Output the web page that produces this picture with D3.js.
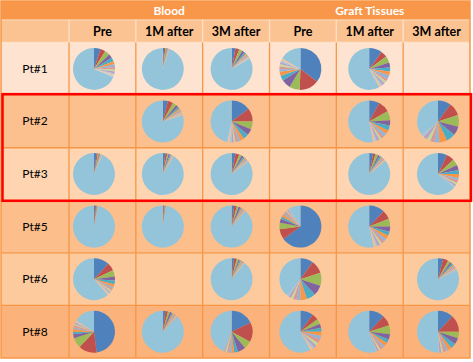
<!DOCTYPE html>
<html>
<head>
<meta charset="utf-8">
<script src="https://cdn.jsdelivr.net/npm/d3@7"></script>
<style>
  body { margin: 0; background: #fff; }
  text { font-family: Lato, "Open Sans", sans-serif; }
</style>
</head>
<body>
<div id="chartDiv"></div>
<script>

// column groups and time points
var groups = ['Blood', 'Graft Tissues'];
var timepoints = ['Pre', '1M after', '3M after'];
var patients = ['Pt#1', 'Pt#2', 'Pt#3', 'Pt#5', 'Pt#6', 'Pt#8'];

// clone shares (%) per cell: Blood Pre, 1M, 3M, Graft Pre, 1M, 3M
// last value of every pie is the remaining (light blue) share, null = no sample
var pt1 = [
  [5, 4, 4, 3, 3, 2.5, 2, 2, 1.5, 1.5, 1, 1, 1, 68.5],
  [1, 1, 0.8, 0.6, 0.5, 0.5, 0.5, 0.4, 94.7],
  [3, 3, 2.5, 2, 1.5, 1, 1, 1, 0.8, 0.6, 0.5, 83.1],
  [35, 15, 8, 7, 4, 3, 2, 2, 2, 1.5, 1.5, 1.5, 16.5],
  [10, 5, 5, 4, 3, 3, 3, 2, 2, 2, 1.5, 1.5, 58],
  null
];
var pt2 = [
  null,
  [4, 4, 3, 2, 1.5, 1, 1, 1, 1, 0.5, 0.5, 0.5, 80],
  [15, 10, 6, 5, 4, 3, 2, 2, 1.5, 1.5, 1.5, 1, 1, 46.5],
  null,
  [8, 9, 7, 4, 4, 3, 3, 2, 2, 2, 1.5, 1.5, 53],
  [10, 10, 9, 7, 7, 6, 4, 3, 3, 3, 2, 36]
];
var pt3 = [
  [2, 1, 0.8, 0.6, 0.5, 0.4, 0.5, 0.5, 0.4, 93.3],
  [2, 1.5, 1, 1, 1, 0.5, 0.6, 0.5, 0.5, 0.4, 91],
  [3, 3, 2, 1.5, 1.5, 1, 1, 0.8, 0.6, 0.5, 85.1],
  null,
  [3, 2, 2, 1.5, 1.5, 1, 1, 1, 0.8, 0.6, 85.6],
  [7, 6, 5, 4, 3, 3, 2, 2, 1.5, 1.5, 1, 64]
];
var pt5 = [
  [1, 0.7, 0.4, 0.3, 0.3, 0.3, 0.3, 96.7],
  [0.8, 0.5, 0.4, 0.3, 0.2, 0.2, 97.6],
  [2, 2, 1.5, 1.5, 1, 1, 1, 0.8, 0.6, 0.5, 88.1],
  [65, 8, 5, 3, 2, 2, 1.5, 1.5, 1, 1, 1, 9],
  [12, 7, 6, 4, 3, 3, 2.5, 2, 2, 2, 1.5, 1.5, 53.5],
  null
];
var pt6 = [
  [12, 6, 5, 3, 3, 2, 1.5, 1.5, 1.5, 1, 1, 1, 61.5],
  null,
  [2, 2, 1.5, 1, 1, 1, 1, 0.8, 0.6, 89.1],
  [10, 10, 10, 8, 7, 5, 3, 2.5, 2, 2, 1.5, 39],
  null,
  [4, 4, 2, 1.5, 1.5, 1, 1, 1, 0.8, 0.6, 0.5, 82.1]
];
var pt8 = [
  [48, 14, 8, 3, 2, 2, 1.5, 1.5, 1, 1, 1, 1, 16],
  [2, 2, 1.5, 1.5, 1, 1, 1, 1, 0.8, 0.6, 87.6],
  [18, 15, 6, 6, 3, 2, 2, 1.5, 1.5, 1, 44],
  [10, 5, 4, 3, 3, 3, 3, 3, 2.5, 2, 2, 1.5, 58],
  [12, 8, 7, 4, 3, 3, 2, 2, 1.5, 1.5, 1, 55],
  [12, 13, 5, 5, 4, 3, 2, 2, 1.5, 1.5, 1, 50]
];
var patientData = [pt1, pt2, pt3, pt5, pt6, pt8];

var sliceColors = ['#4f81bd', '#c0504d', '#9bbb59', '#8064a2', '#4bacc6', '#f79646',
                   '#95b3d7', '#d99694', '#c3d69b', '#b3a2c7', '#a9c4e0', '#fac090',
                   '#b9cde5', '#e6b9b8'];
var restColor = '#93c4d9';

function drawTable() {

  var width = 473;
  var height = 362;

  var svg = d3.select('#chartDiv').append('svg')
    .attr('width', width).attr('height', height);

  var left = 1, right = 470, labelW = 69;
  var top = 1, head1 = 20, head2 = 42.6, bottom = 358;

  var columns = [];
  groups.forEach(function(g) {
    timepoints.forEach(function(t) { columns.push(g + '|' + t); });
  });

  var x = d3.scaleBand().domain(columns).range([labelW, right]);
  var pieX = d3.scalePoint().domain(columns).range([94, 438]);
  var y = d3.scaleBand().domain(patients).range([head2, bottom]);

  var rowFill = ['#fee4d0', '#fcbf8e', '#fed5b0', '#fcbe8b', '#fdca9d', '#fbb27b'];

  // header row 1
  svg.append('rect')
    .attr('x', left).attr('y', top)
    .attr('width', right - left).attr('height', head1 - top)
    .attr('fill', '#f8974a');

  // header row 2
  svg.append('rect')
    .attr('x', left).attr('y', head1)
    .attr('width', right - left).attr('height', head2 - head1)
    .attr('fill', '#fbc392');

  // body rows
  svg.selectAll('rect.row')
    .data(patients)
    .enter().append('rect')
    .attr('class', 'row')
    .attr('x', left)
    .attr('y', function(d) { return y(d); })
    .attr('width', right - left)
    .attr('height', y.bandwidth())
    .attr('fill', function(d, i) { return rowFill[i]; });

  // grid lines
  var grid = svg.append('g');
  grid.append('line')
    .attr('x1', left).attr('x2', right).attr('y1', head1).attr('y2', head1)
    .attr('stroke', '#fbd0aa').attr('stroke-width', 1.5);
  grid.append('line')
    .attr('x1', left).attr('x2', right).attr('y1', head2).attr('y2', head2)
    .attr('stroke', '#fde0c6').attr('stroke-width', 1.5);

  grid.selectAll('line.h')
    .data(patients.slice(1))
    .enter().append('line')
    .attr('x1', left).attr('x2', right)
    .attr('y1', function(d) { return y(d); })
    .attr('y2', function(d) { return y(d); })
    .attr('stroke', '#f79646').attr('stroke-width', 1.3);

  var vx = [labelW].concat(columns.slice(1).map(function(c) { return x(c); }));
  grid.selectAll('line.vh')
    .data(vx)
    .enter().append('line')
    .attr('x1', function(d) { return d; }).attr('x2', function(d) { return d; })
    .attr('y1', head1).attr('y2', head2)
    .attr('stroke', '#fde0c6').attr('stroke-width', 1.3);
  grid.selectAll('line.vb')
    .data(vx)
    .enter().append('line')
    .attr('x1', function(d) { return d; }).attr('x2', function(d) { return d; })
    .attr('y1', head2).attr('y2', bottom)
    .attr('stroke', '#f79646').attr('stroke-width', 1.3);

  // outer border
  svg.append('rect')
    .attr('x', left).attr('y', top)
    .attr('width', right - left).attr('height', bottom - top)
    .attr('fill', 'none').attr('stroke', '#f79646').attr('stroke-width', 1.5);

  // header texts
  svg.selectAll('text.group')
    .data(groups)
    .enter().append('text')
    .attr('class', 'group')
    .attr('x', function(g) { return (x(g + '|Pre') + x(g + '|3M after') + x.bandwidth()) / 2; })
    .attr('y', (top + head1) / 2 + 1)
    .attr('text-anchor', 'middle')
    .attr('dominant-baseline', 'middle')
    .attr('fill', '#fff')
    .attr('font-weight', 'bold')
    .attr('font-size', 12)
    .text(function(g) { return g; });

  svg.selectAll('text.time')
    .data(columns)
    .enter().append('text')
    .attr('class', 'time')
    .attr('x', function(c) { return x(c) + x.bandwidth() / 2; })
    .attr('y', (head1 + head2) / 2 + 1)
    .attr('text-anchor', 'middle')
    .attr('dominant-baseline', 'middle')
    .attr('fill', '#000')
    .attr('font-weight', 'bold')
    .attr('font-size', 12.5)
    .text(function(c) { return c.split('|')[1]; });

  svg.selectAll('text.pt')
    .data(patients)
    .enter().append('text')
    .attr('class', 'pt')
    .attr('x', 35)
    .attr('y', function(d) { return y(d) + y.bandwidth() / 2 + 1; })
    .attr('text-anchor', 'middle')
    .attr('dominant-baseline', 'middle')
    .attr('fill', '#000')
    .attr('font-size', 12)
    .text(function(d) { return d; });

  // pies
  var pie = d3.pie().sort(null).value(function(d) { return d; });
  var arc = d3.arc().innerRadius(0).outerRadius(21);

  patientData.forEach(function(row, ri) {
    row.forEach(function(values, ci) {
      if (!values) return;
      var g = svg.append('g')
        .attr('transform', 'translate(' + pieX(columns[ci]) + ',' +
              (y(patients[ri]) + y.bandwidth() / 2) + ')');
      var last = values.length - 1;
      g.selectAll('path')
        .data(pie(values))
        .enter().append('path')
        .attr('d', arc)
        .attr('fill', function(d, i) {
          return i === last ? restColor : sliceColors[i % sliceColors.length];
        });
    });
  });

  // highlight box around Pt#2 and Pt#3
  svg.append('rect')
    .attr('x', 2.5)
    .attr('y', y('Pt#2') - 1)
    .attr('width', 468.5)
    .attr('height', y('Pt#3') + y.bandwidth() - y('Pt#2') + 1.5)
    .attr('fill', 'none')
    .attr('stroke', '#ff0000')
    .attr('stroke-width', 2.5);
}

drawTable();
</script>
</body>
</html>
